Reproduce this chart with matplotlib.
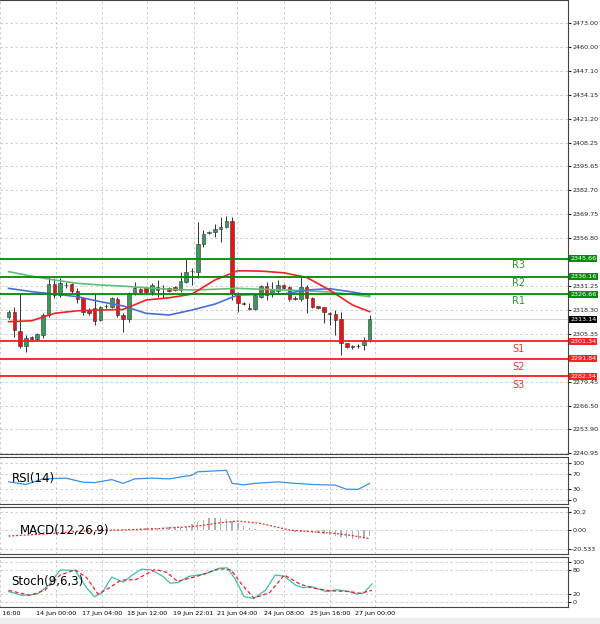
import matplotlib
matplotlib.use("Agg")
import matplotlib.pyplot as plt
import numpy as np

# ---------------- data ----------------
opens  = [2314.5,2316.8,2306.7,2298.8,2303.7,2302.2,2304.6,2315.4,2332.1,2326.2,2331.5,2331.9,2328.5,2324.4,2318.1,2319.0,
          2312.7,2320.0,2319.5,2324.0,2315.4,2313.2,2327.5,2329.4,2329.8,2328.0,2330.3,2329.9,2329.8,2330.3,2328.9,2333.4,
          2339.0,2338.8,2353.5,2359.5,2360.4,2361.6,2362.7,2366.3,2326.2,2321.7,2319.0,2318.6,2325.3,2331.0,2327.1,2328.5,
          2331.6,2330.3,2324.4,2324.0,2330.3,2324.8,2320.2,2319.5,2316.3,2315.9,2313.0,2300.1,2298.3,2298.6,2299.2,2301.9]
highs  = [2318.0,2319.9,2327.1,2304.6,2304.2,2305.5,2316.3,2336.1,2335.2,2335.2,2333.0,2332.5,2329.8,2325.3,2319.0,2327.1,
          2320.5,2321.2,2325.3,2325.3,2316.3,2328.0,2333.4,2330.0,2330.3,2332.5,2334.3,2331.6,2330.5,2331.0,2338.8,2346.0,
          2340.6,2365.8,2361.3,2361.0,2364.5,2368.5,2368.8,2368.5,2328.0,2322.6,2321.7,2326.5,2331.6,2333.4,2333.4,2334.3,
          2332.0,2331.0,2325.5,2336.1,2331.6,2325.3,2320.5,2319.9,2316.8,2318.1,2317.2,2300.5,2299.0,2299.6,2303.7,2315.4]
lows   = [2313.0,2303.7,2297.4,2295.6,2301.5,2301.5,2302.8,2314.5,2324.4,2325.3,2330.0,2327.5,2321.7,2315.4,2315.5,2310.0,
          2312.0,2319.2,2319.0,2314.5,2306.4,2311.8,2326.2,2327.5,2327.5,2326.2,2325.3,2324.4,2328.0,2328.3,2328.0,2332.5,
          2331.6,2335.2,2352.3,2359.0,2357.7,2354.9,2362.2,2323.5,2317.2,2320.8,2318.1,2318.0,2324.4,2323.5,2325.3,2327.1,
          2329.5,2323.1,2323.4,2323.1,2316.3,2319.0,2318.5,2310.9,2310.0,2304.6,2293.8,2297.8,2297.2,2297.4,2296.5,2301.0]
closes = [2317.2,2307.3,2298.8,2302.8,2302.2,2304.9,2315.4,2332.1,2326.2,2332.5,2331.8,2328.5,2324.0,2316.8,2316.3,2312.3,
          2319.9,2320.4,2324.4,2315.4,2313.2,2327.1,2329.8,2328.0,2328.0,2331.6,2329.1,2330.2,2328.5,2328.9,2333.9,2338.8,
          2339.3,2353.7,2358.9,2360.4,2361.6,2363.1,2366.1,2327.1,2321.7,2321.5,2318.8,2326.2,2331.0,2326.2,2329.3,2331.6,
          2330.1,2324.0,2324.2,2330.3,2324.4,2319.9,2319.0,2316.8,2315.9,2312.7,2300.1,2298.3,2298.1,2298.8,2301.9,2313.1]

ma_idx   = [0,4,8,12,16,20,24,28,32,36,40,44,48,52,56,60,63]
ma_red   = [2311.8,2312.3,2316.3,2317.7,2318.1,2318.4,2323.5,2324.7,2326.7,2334.3,2339.3,2339.1,2338.2,2335.7,2328.9,2320.8,2317.2]
ma_blue  = [2329.8,2328.0,2326.7,2325.3,2322.6,2320.3,2316.3,2315.4,2318.1,2321.3,2326.2,2326.5,2326.7,2328.9,2329.6,2327.8,2326.2]
ma_green = [2338.8,2336.4,2334.3,2332.5,2331.6,2331.0,2330.1,2329.3,2328.9,2329.3,2329.8,2329.3,2328.9,2328.5,2327.8,2326.5,2325.3]

res_levels = [2326.66, 2336.16, 2345.66]
res_names  = ["R1", "R2", "R3"]
sup_levels = [2301.34, 2291.84, 2282.34]
sup_names  = ["S1", "S2", "S3"]
last_price = 2313.14

price_ticks = [2473.00,2460.00,2447.10,2434.15,2421.20,2408.25,2395.65,2382.70,2369.75,2356.80,
               2331.25,2318.30,2305.35,2279.45,2266.50,2253.90,2240.95]

rsi_idx = [0,3,6,10,13,15,18,20,22,25,28,32,33,38,39,41,43,47,50,53,57,59,61,63]
rsi_val = [49,42,57,59,48,47,55,45,57,59,57,67,76,80,45,41,45,49,45,42,40,29,29,45]

macd_hist = [0,0,0,0,0,0,0,0,0,0,0.5,0.5,0.5,0.5,0.5,0.5,0.5,1,1,1,1,1.5,1.5,2,2,2,2.5,2.5,3,3,3,5,7,9,11,13,13,13,12,10,
             8,4,2,1,0.5,0,-0.5,-1,-1,-1.5,-2,-2,-2.5,-3,-3,-4,-5,-7,-8,-9,-10,-10,-9,-7]
sig_idx = [0,6,13,20,26,33,37,40,44,49,53,57,60,63]
sig_val = [-6.6,-4.4,-1.1,0,1.5,4.4,8.1,9.9,7.3,0,-1.8,-3.7,-6.2,-9.5]

st_idx  = [0,2.4,5,7,9,11.6,13.6,15,16.3,18,20,21.6,23.2,24.9,26.9,28.2,29.5,31.5,34.2,36.8,38.2,39.5,41.1,42.8,44.8,
           46.5,48.1,50.1,51.4,52.8,55.4,57.4,59.4,60.7,62,63.4]
st_main = [26.3,16.8,20,42,80,78.7,35.8,13.6,23.1,62.3,49.7,67.4,81.9,80,64.2,47.1,48.4,64.2,69.3,84.4,85,57.9,13.6,9.2,
           29.4,67.4,64.2,42,35.8,38.9,26.3,30.7,26.3,20,23.1,45.2]
ss_idx  = [0,3.7,6.3,9,11.6,13.6,15.6,17.6,19.6,22.2,25.6,27.6,29.5,32.9,36.8,38.8,40.8,42.8,45.5,48.1,50.8,52.8,56.1,59.4,61.4,63.4]
ss_val  = [29.4,16.8,29.4,67.4,80,61,20,35.8,54.7,56,81.3,73.7,51.6,64.2,83.2,80,42,10.5,23.1,67.4,45.2,35.8,28.2,26.3,21.9,29.4]

time_pos    = [-1.5,8.3,16.3,24.2,32.3,39.9,48,56.1,64]
time_labels = ["13 Jun 16:00","14 Jun 00:00","17 Jun 04:00","18 Jun 12:00","19 Jun 22:01",
               "21 Jun 04:00","24 Jun 08:00","25 Jun 16:00","27 Jun 00:00"]

# ---------------- layout ----------------
W, H = 600, 624
fig = plt.figure(figsize=(6, 6.24), dpi=100)
fig.patch.set_facecolor("white")

def ax_px(top, bottom, left=0, right=568):
    return fig.add_axes([left / W, 1 - bottom / H, (right - left) / W, (bottom - top) / H])

ax = ax_px(0, 454)
ax_rsi = ax_px(457, 504)
ax_macd = ax_px(507, 554)
ax_st = ax_px(557, 607)

FS = 4.6
xlim = (-0.3, 97.6)
grid_kw = dict(color="#c8c8c8", linestyle=(0, (3, 3)), linewidth=0.6)
for a in (ax, ax_rsi, ax_macd, ax_st):
    a.set_xlim(*xlim)
    a.set_facecolor("white")
    for s in a.spines.values():
        s.set_color("#444444")
        s.set_linewidth(0.8)
    a.spines["left"].set_visible(False)
    a.yaxis.tick_right()
    a.tick_params(axis="y", labelsize=FS, length=2, pad=1, colors="#222222")
    a.set_xticks(time_pos)
    a.tick_params(axis="x", length=0)
    a.set_xticklabels([])
    a.grid(True, **grid_kw)

# ---- main price panel ----
ax.set_ylim(2240.4, 2485.4)
ax.set_yticks(price_ticks)
ax.set_yticklabels([f"{v:.2f}" for v in price_ticks])
x = np.arange(len(opens))
for i in x:
    o, h, l, c = opens[i], highs[i], lows[i], closes[i]
    col = "#3a9a5c" if c >= o else "#ee1111"
    ax.vlines(i, l, h, color="#333333", linewidth=0.7, zorder=2)
    ax.bar(i, max(abs(c - o), 0.35), bottom=min(o, c), width=0.62, color=col,
           edgecolor="#333333", linewidth=0.4, zorder=3)

ax.plot(ma_idx, ma_green, color="#5cc07a", linewidth=1.2, zorder=4)
ax.plot(ma_idx, ma_blue, color="#4a6ee0", linewidth=1.2, zorder=4)
ax.plot(ma_idx, ma_red, color="#ee2222", linewidth=1.2, zorder=4)

ax.axhline(last_price, color="#d8d8d8", linewidth=0.8, zorder=1)
box = dict(boxstyle="square,pad=0.15", linewidth=0)
for v, n in zip(res_levels, res_names):
    ax.axhline(v, color="#008a00", linewidth=1.3, zorder=5)
    ax.text(89, v - 3.5, n, color="#2a9a2a", fontsize=7, ha="center", va="center")
    ax.text(1.004, v, f"{v:.2f}", transform=ax.get_yaxis_transform(), fontsize=FS, color="white",
            va="center", ha="left", bbox=dict(box, facecolor="#0a8a0a"), clip_on=False, zorder=10)
for v, n in zip(sup_levels, sup_names):
    ax.axhline(v, color="#ff1a1a", linewidth=1.3, zorder=5)
    ax.text(89, v - 4.5, n, color="#ee3333", fontsize=7, ha="center", va="center")
    ax.text(1.004, v, f"{v:.2f}", transform=ax.get_yaxis_transform(), fontsize=FS, color="white",
            va="center", ha="left", bbox=dict(box, facecolor="#ff2020"), clip_on=False, zorder=10)
ax.text(1.004, last_price, f"{last_price:.2f}", transform=ax.get_yaxis_transform(), fontsize=FS,
        color="white", va="center", ha="left", bbox=dict(box, facecolor="black"), clip_on=False, zorder=10)

# ---- RSI ----
ax_rsi.set_ylim(-10.5, 115.8)
ax_rsi.set_yticks([0, 30, 70, 100])
ax_rsi.plot(rsi_idx, rsi_val, color="#3c8ee8", linewidth=0.9)
ax_rsi.text(0.5, 57, "RSI(14)", fontsize=8.5, va="center")

# ---- MACD ----
ax_macd.set_ylim(-26.4, 25.4)
ax_macd.set_yticks([-20.533, 0, 20.2])
ax_macd.set_yticklabels(["-20.533", "0.00", "20.2"])
ax_macd.bar(np.arange(len(macd_hist)), macd_hist, width=0.25, color="#b0b0b0")
ax_macd.plot(sig_idx, sig_val, color="#ee2222", linewidth=0.9, linestyle=(0, (1.5, 1.5)))
ax_macd.text(2, 0, "MACD(12,26,9)", fontsize=8.5, va="center")

# ---- Stochastic ----
ax_st.set_ylim(-12, 112)
ax_st.set_yticks([0, 20, 80, 100])
ax_st.plot(st_idx, st_main, color="#3cbfb0", linewidth=0.9)
ax_st.plot(ss_idx, ss_val, color="#ee2222", linewidth=0.9, linestyle=(0, (3, 2)))
ax_st.text(0.5, 50, "Stoch(9,6,3)", fontsize=8.5, va="center")

ax_st.set_xticklabels(time_labels, fontsize=FS)
ax_st.tick_params(axis="x", pad=3)

fig.patches.append(plt.Rectangle((0, 0), 1, 6 / H, transform=fig.transFigure, color="#eeeeee"))
fig.savefig("out.png", dpi=100)
